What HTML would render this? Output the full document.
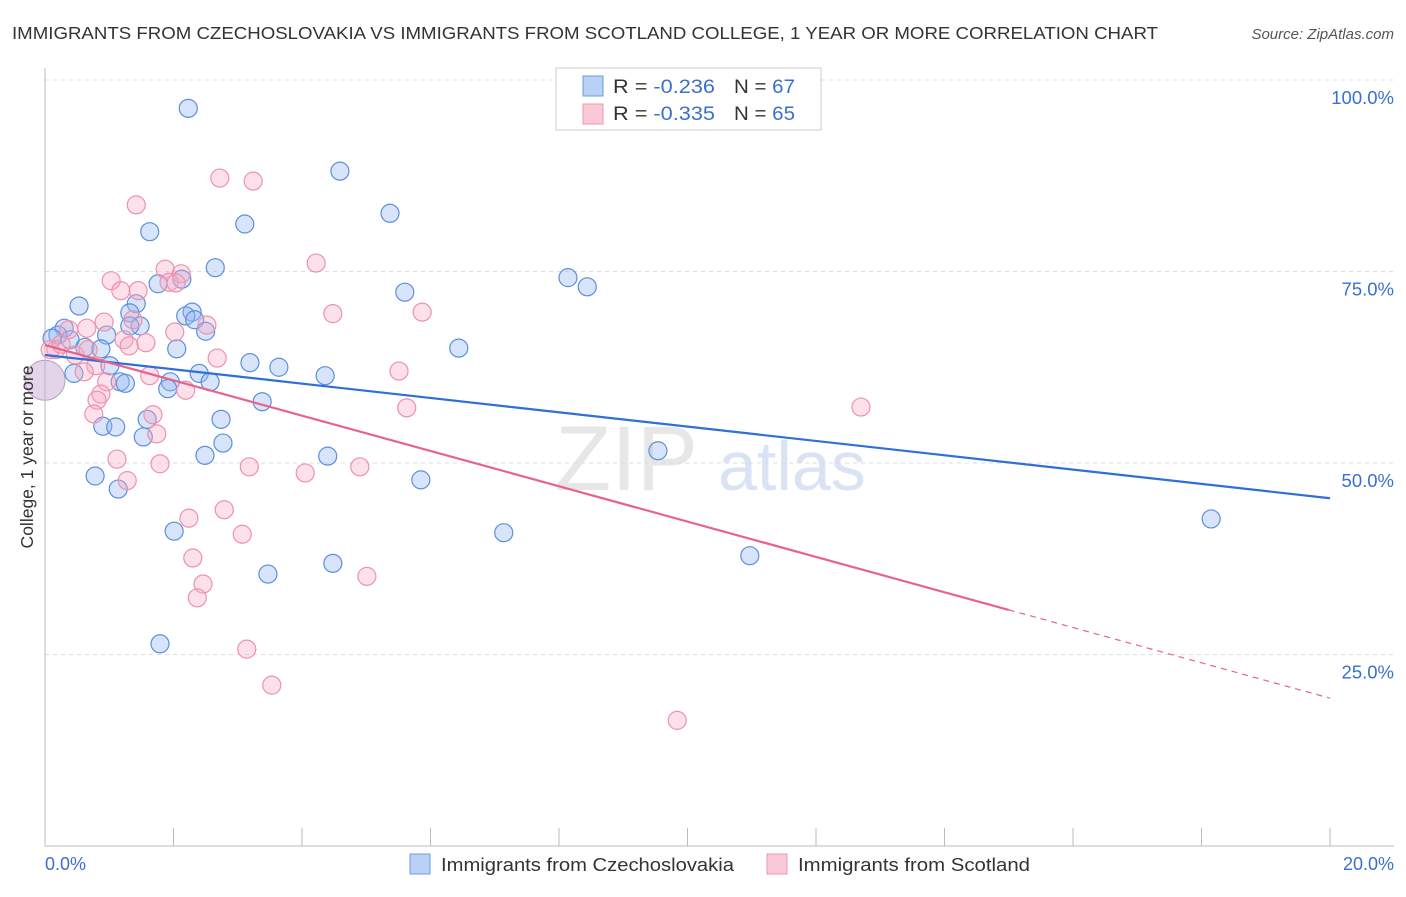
<!DOCTYPE html>
<html><head><meta charset="utf-8"><style>
body{margin:0;background:#fff;font-family:"Liberation Sans",sans-serif;}
svg text{font-family:"Liberation Sans",sans-serif;}
</style></head><body>
<svg id="chart" width="1406" height="892" xmlns="http://www.w3.org/2000/svg">
<text x="12" y="39" font-size="17.5" fill="#333" textLength="1146" lengthAdjust="spacingAndGlyphs">IMMIGRANTS FROM CZECHOSLOVAKIA VS IMMIGRANTS FROM SCOTLAND COLLEGE, 1 YEAR OR MORE CORRELATION CHART</text>
<text x="1394" y="39" font-size="15" fill="#555" text-anchor="end" font-style="italic">Source: ZipAtlas.com</text>
<text x="555" y="490" font-size="92" fill="#ddd" font-family="Liberation Serif" opacity="0.7">ZIP</text>
<text x="718" y="490" font-size="70" fill="#c9d8f0" opacity="0.7">atlas</text>
<g id="grid"></g><g id="axes"></g><g id="pts"></g><g id="lines"></g>
<text transform="translate(33,457) rotate(-90)" font-size="17.5" fill="#333" text-anchor="middle">College, 1 year or more</text>
<text x="45" y="870" font-size="18" fill="#3a6fd1">0.0%</text>
<text x="1394" y="870" font-size="18" fill="#3a6fd1" text-anchor="end">20.0%</text>
<g>
<rect x="556" y="68" width="265" height="62" fill="#fff" stroke="#ccc"/>
<rect x="583" y="76" width="20" height="20" fill="#b9d1f5" stroke="#6d9be0"/>
<rect x="583" y="104" width="20" height="20" fill="#f9c9d7" stroke="#ec9ab3"/>
<text x="613" y="93" font-size="19.5" fill="#333" textLength="102" lengthAdjust="spacingAndGlyphs">R = <tspan fill="#3a6fd1">-0.236</tspan></text>
<text x="734" y="93" font-size="19.5" fill="#333" textLength="61" lengthAdjust="spacingAndGlyphs">N = <tspan fill="#3a6fd1">67</tspan></text>
<text x="613" y="120" font-size="19.5" fill="#333" textLength="102" lengthAdjust="spacingAndGlyphs">R = <tspan fill="#3a6fd1">-0.335</tspan></text>
<text x="734" y="120" font-size="19.5" fill="#333" textLength="61" lengthAdjust="spacingAndGlyphs">N = <tspan fill="#3a6fd1">65</tspan></text>
</g>
<g>
<rect x="410" y="854" width="20" height="20" fill="#b9d1f5" stroke="#6d9be0"/>
<text x="441" y="871" font-size="18.5" fill="#333" textLength="293" lengthAdjust="spacingAndGlyphs">Immigrants from Czechoslovakia</text>
<rect x="767" y="854" width="20" height="20" fill="#f9c9d7" stroke="#ec9ab3"/>
<text x="798" y="871" font-size="18.5" fill="#333" textLength="232" lengthAdjust="spacingAndGlyphs">Immigrants from Scotland</text>
</g>
</svg>
<script>
const yTicks=[25,50,75,100];
const yTickLabels=["25.0%","50.0%","75.0%","100.0%"];
const xTicks=[0,2,4,6,8,10,12,14,16,18,20];
const blueX=[2.23,4.59,5.37,1.63,3.11,2.65,8.14,8.44,2.13,1.76,5.60,0.53,1.42,2.29,2.19,1.32,2.33,1.48,1.32,2.50,0.30,0.20,0.96,0.11,0.39,0.62,0.87,2.05,6.44,1.01,3.19,3.64,0.45,2.40,4.36,1.17,1.25,1.95,2.57,1.91,3.38,2.74,1.59,0.90,1.10,1.53,2.77,9.54,2.49,4.40,0.78,5.85,1.14,18.15,2.01,7.14,10.97,4.48,3.47,1.79];
const blueY=[96.3,88.1,82.6,80.2,81.2,75.5,74.2,73.0,74.0,73.4,72.3,70.5,70.8,69.7,69.2,69.6,68.7,67.9,67.9,67.2,67.6,66.7,66.7,66.3,66.1,65.1,64.9,64.9,65.0,62.7,63.1,62.5,61.7,61.7,61.4,60.6,60.4,60.6,60.6,59.7,58.0,55.7,55.7,54.8,54.7,53.4,52.6,51.6,51.0,50.9,48.3,47.8,46.6,42.7,41.1,40.9,37.9,36.9,35.5,26.4];
const pinkX=[2.72,3.24,1.42,4.22,1.87,1.03,2.12,1.93,2.04,1.18,1.45,4.48,5.87,0.92,1.37,0.65,2.52,2.02,0.37,1.23,1.57,1.31,0.17,0.47,0.67,0.79,2.68,5.51,0.61,1.63,0.96,2.19,0.87,0.81,5.63,12.70,1.68,0.76,1.74,1.12,1.79,3.18,4.90,4.05,1.28,2.79,2.24,3.07,2.30,5.01,2.46,2.37,3.14,3.53,9.84,0.08,0.25];
const pinkY=[87.2,86.8,83.7,76.1,75.3,73.8,74.7,73.6,73.5,72.5,72.5,69.5,69.7,68.4,68.7,67.6,68.0,67.1,67.4,66.1,65.7,65.3,64.8,64.1,64.8,62.7,63.7,62.0,61.9,61.4,60.6,59.5,59.0,58.2,57.2,57.3,56.3,56.4,53.8,50.5,49.9,49.5,49.5,48.7,47.7,43.9,42.8,40.7,37.6,35.2,34.2,32.4,25.7,21.0,16.4,64.8,65.5];
const blueTrend=[64.1,45.4];
const pinkTrend=[65.4,19.3];
const pinkSolidEnd=15.0;
const NS="http://www.w3.org/2000/svg";
const X0=45,X1=1330,Y0=846,Y100=80;
function sx(v){return X0+(v/20)*(X1-X0);}
function sy(v){return Y0-(v/100)*(Y0-Y100);}
function mk(tag,attrs,parent){const e=document.createElementNS(NS,tag);for(const k in attrs)e.setAttribute(k,attrs[k]);parent.appendChild(e);return e;}
const grid=document.getElementById('grid'),axes=document.getElementById('axes'),pts=document.getElementById('pts'),lines=document.getElementById('lines');
yTicks.forEach((t,i)=>{
 const l=mk('line',{x1:X0,x2:1394,y1:sy(t),y2:sy(t),stroke:'#ddd','stroke-dasharray':'4,4'},grid);
 
 
 const tx=mk('text',{x:1394,y:sy(t)+24,'font-size':18.5,fill:'#3a6fd1','text-anchor':'end'},grid);
 tx.textContent=yTickLabels[i];
 
 
});
const ya=mk('line',{x1:X0,x2:X0,y1:68,y2:Y0,stroke:'#bbb'},axes);


const xa=mk('line',{x1:X0,x2:1394,y1:Y0,y2:Y0,stroke:'#bbb'},axes);


xTicks.forEach(t=>{
 const l=mk('line',{x1:sx(t),x2:sx(t),y1:828,y2:Y0,stroke:'#bbb'},axes);
 
 
});
const big=mk('circle',{cx:sx(0),cy:sy(60.8),r:20,fill:'rgba(200,170,210,0.5)',stroke:'#b9a0cc'},pts);


blueX.forEach((x,i)=>{
 const c=mk('circle',{cx:sx(x),cy:sy(blueY[i]),r:9,fill:'rgba(150,185,240,0.38)',stroke:'#5b8fde','stroke-width':1.2},pts);
 
 
});
pinkX.forEach((x,i)=>{
 const c=mk('circle',{cx:sx(x),cy:sy(pinkY[i]),r:9,fill:'rgba(245,170,195,0.35)',stroke:'#ec92ae','stroke-width':1.2},pts);
 
 
});
const bl=mk('line',{x1:sx(0),y1:sy(blueTrend[0]),x2:sx(20),y2:sy(blueTrend[1]),stroke:'#2f6fd6','stroke-width':2.2},lines);


const pe=pinkTrend[0]+(pinkTrend[1]-pinkTrend[0])*pinkSolidEnd/20;
const pl=mk('line',{x1:sx(0),y1:sy(pinkTrend[0]),x2:sx(pinkSolidEnd),y2:sy(pe),stroke:'#e8628e','stroke-width':2.2},lines);


const pd=mk('line',{x1:sx(pinkSolidEnd),y1:sy(pe),x2:sx(20),y2:sy(pinkTrend[1]),stroke:'#e8628e','stroke-width':1.2,'stroke-dasharray':'6,5'},lines);


</script>
</body></html>
